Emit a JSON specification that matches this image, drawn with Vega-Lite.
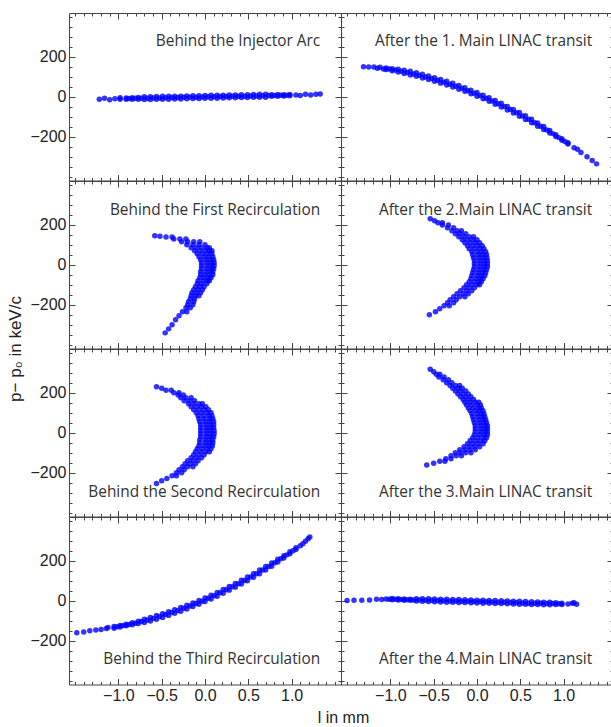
{
"$schema": "https://vega.github.io/schema/vega-lite/v6.json",
"autosize": {"type": "pad"},
"padding": {"left": 6, "top": 8, "right": 0, "bottom": 0},
"datasets": {
"d1": [{"x":-0.91,"y":-12},{"x":-0.91,"y":-6},{"x":-0.84,"y":-12},{"x":-0.84,"y":-5},{"x":-0.77,"y":-12},{"x":-0.77,"y":-4},{"x":-0.7,"y":-14},{"x":-0.7,"y":0},{"x":-0.63,"y":-14},{"x":-0.63,"y":0},{"x":-0.56,"y":-13},{"x":-0.56,"y":1},{"x":-0.49,"y":-12},{"x":-0.49,"y":2},{"x":-0.42,"y":-12},{"x":-0.42,"y":2},{"x":-0.35,"y":-11},{"x":-0.35,"y":3},{"x":-0.28,"y":-11},{"x":-0.28,"y":3},{"x":-0.21,"y":-10},{"x":-0.21,"y":4},{"x":-0.14,"y":-9},{"x":-0.14,"y":5},{"x":-0.07,"y":-9},{"x":-0.07,"y":5},{"x":0,"y":-8},{"x":0,"y":6},{"x":0.07,"y":-7},{"x":0.07,"y":7},{"x":0.14,"y":-7},{"x":0.14,"y":7},{"x":0.21,"y":-6},{"x":0.21,"y":8},{"x":0.28,"y":-5},{"x":0.28,"y":9},{"x":0.35,"y":-5},{"x":0.35,"y":9},{"x":0.42,"y":-4},{"x":0.42,"y":10},{"x":0.49,"y":-4},{"x":0.49,"y":10},{"x":0.56,"y":-3},{"x":0.56,"y":11},{"x":0.63,"y":-2},{"x":0.63,"y":12},{"x":0.7,"y":-2},{"x":0.7,"y":12},{"x":0.77,"y":2},{"x":0.77,"y":10},{"x":0.84,"y":3},{"x":0.84,"y":11},{"x":0.91,"y":4},{"x":0.91,"y":10},{"x":0.98,"y":5},{"x":0.98,"y":11},{"x":-0.875,"y":-9},{"x":-0.805,"y":-8},{"x":-0.735,"y":-8},{"x":-0.665,"y":-7},{"x":-0.595,"y":-6},{"x":-0.525,"y":-6},{"x":-0.455,"y":-5},{"x":-0.385,"y":-4},{"x":-0.315,"y":-4},{"x":-0.245,"y":-3},{"x":-0.175,"y":-3},{"x":-0.105,"y":-2},{"x":-0.035,"y":-1},{"x":0.035,"y":0},{"x":0.105,"y":0},{"x":0.175,"y":1},{"x":0.245,"y":1},{"x":0.315,"y":2},{"x":0.385,"y":2},{"x":0.455,"y":3},{"x":0.525,"y":4},{"x":0.595,"y":4},{"x":0.665,"y":5},{"x":0.735,"y":6},{"x":0.805,"y":6},{"x":0.875,"y":7},{"x":0.945,"y":8},{"x":-1.22,"y":-12},{"x":-1.16,"y":-8},{"x":-1.1,"y":-15},{"x":-1.04,"y":-10},{"x":-0.98,"y":-13},{"x":-0.98,"y":-5},{"x":1.05,"y":9},{"x":1.1,"y":6},{"x":1.16,"y":12},{"x":1.22,"y":9},{"x":1.28,"y":13},{"x":1.33,"y":14}],
"d2": [{"x":-1.31,"y":150},{"x":-1.25,"y":148},{"x":-1.19,"y":149},{"x":-1.15,"y":142},{"x":-1.12,"y":147},{"x":-1.08,"y":139},{"x":-1.05,"y":136},{"x":-1.05,"y":144},{"x":-0.98,"y":130},{"x":-0.98,"y":140},{"x":-0.91,"y":123},{"x":-0.91,"y":137},{"x":-0.84,"y":116},{"x":-0.84,"y":132},{"x":-0.77,"y":109},{"x":-0.77,"y":127},{"x":-0.7,"y":102},{"x":-0.7,"y":120},{"x":-0.63,"y":94},{"x":-0.63,"y":112},{"x":-0.56,"y":86},{"x":-0.56,"y":104},{"x":-0.49,"y":77},{"x":-0.49,"y":95},{"x":-0.42,"y":68},{"x":-0.42,"y":86},{"x":-0.35,"y":59},{"x":-0.35,"y":77},{"x":-0.28,"y":49},{"x":-0.28,"y":67},{"x":-0.21,"y":38},{"x":-0.21,"y":56},{"x":-0.14,"y":27},{"x":-0.14,"y":45},{"x":-0.07,"y":15},{"x":-0.07,"y":33},{"x":0,"y":3},{"x":0,"y":21},{"x":0.07,"y":-10},{"x":0.07,"y":8},{"x":0.14,"y":-23},{"x":0.14,"y":-5},{"x":0.21,"y":-37},{"x":0.21,"y":-19},{"x":0.28,"y":-51},{"x":0.28,"y":-33},{"x":0.35,"y":-66},{"x":0.35,"y":-48},{"x":0.42,"y":-81},{"x":0.42,"y":-63},{"x":0.49,"y":-97},{"x":0.49,"y":-79},{"x":0.56,"y":-113},{"x":0.56,"y":-95},{"x":0.63,"y":-130},{"x":0.63,"y":-112},{"x":0.7,"y":-147},{"x":0.7,"y":-131},{"x":0.77,"y":-163},{"x":0.77,"y":-149},{"x":0.84,"y":-181},{"x":0.84,"y":-169},{"x":0.91,"y":-199},{"x":0.91,"y":-189},{"x":0.98,"y":-217},{"x":0.98,"y":-209},{"x":1.05,"y":-236},{"x":1.05,"y":-230},{"x":-1.015,"y":138},{"x":-0.945,"y":133},{"x":-0.875,"y":127},{"x":-0.805,"y":121},{"x":-0.735,"y":114},{"x":-0.665,"y":107},{"x":-0.595,"y":99},{"x":-0.525,"y":91},{"x":-0.455,"y":82},{"x":-0.385,"y":73},{"x":-0.315,"y":63},{"x":-0.245,"y":52},{"x":-0.175,"y":42},{"x":-0.105,"y":30},{"x":-0.035,"y":18},{"x":0.035,"y":6},{"x":0.105,"y":-7},{"x":0.175,"y":-21},{"x":0.245,"y":-35},{"x":0.315,"y":-49},{"x":0.385,"y":-64},{"x":0.455,"y":-80},{"x":0.525,"y":-96},{"x":0.595,"y":-112},{"x":0.665,"y":-130},{"x":0.735,"y":-147},{"x":0.805,"y":-166},{"x":0.875,"y":-184},{"x":0.945,"y":-204},{"x":1.015,"y":-223},{"x":1.12,"y":-254},{"x":1.16,"y":-262},{"x":1.2,"y":-278},{"x":1.27,"y":-300},{"x":1.33,"y":-318},{"x":1.38,"y":-335}],
"d3": [{"x":-0.58,"y":145},{"x":-0.52,"y":142},{"x":-0.45,"y":138},{"x":-0.38,"y":138},{"x":-0.36,"y":128},{"x":-0.29,"y":128},{"x":-0.22,"y":128},{"x":-0.27,"y":115},{"x":-0.2,"y":115},{"x":-0.13,"y":115},{"x":-0.06,"y":115},{"x":-0.21,"y":100},{"x":-0.14,"y":100},{"x":-0.07,"y":100},{"x":0,"y":100},{"x":-0.16,"y":85},{"x":-0.1,"y":85},{"x":-0.04,"y":85},{"x":0.02,"y":85},{"x":0.05,"y":85},{"x":-0.12,"y":70},{"x":-0.06,"y":70},{"x":0,"y":70},{"x":0.05,"y":70},{"x":0.08,"y":70},{"x":-0.09,"y":55},{"x":-0.03,"y":55},{"x":0.03,"y":55},{"x":0.08,"y":55},{"x":-0.07,"y":40},{"x":-0.01,"y":40},{"x":0.04,"y":40},{"x":0.09,"y":40},{"x":-0.05,"y":25},{"x":0.01,"y":25},{"x":0.06,"y":25},{"x":0.1,"y":25},{"x":-0.04,"y":10},{"x":0.02,"y":10},{"x":0.07,"y":10},{"x":0.105,"y":10},{"x":-0.04,"y":-5},{"x":0.02,"y":-5},{"x":0.07,"y":-5},{"x":0.105,"y":-5},{"x":-0.04,"y":-20},{"x":0.02,"y":-20},{"x":0.07,"y":-20},{"x":0.1,"y":-20},{"x":-0.05,"y":-35},{"x":0.01,"y":-35},{"x":0.06,"y":-35},{"x":0.09,"y":-35},{"x":-0.05,"y":-50},{"x":0,"y":-50},{"x":0.05,"y":-50},{"x":0.09,"y":-50},{"x":-0.06,"y":-65},{"x":-0.01,"y":-65},{"x":0.04,"y":-65},{"x":0.07,"y":-65},{"x":-0.08,"y":-80},{"x":-0.02,"y":-80},{"x":0.03,"y":-80},{"x":0.05,"y":-80},{"x":-0.09,"y":-95},{"x":-0.04,"y":-95},{"x":0.02,"y":-95},{"x":-0.11,"y":-110},{"x":-0.06,"y":-110},{"x":-0.01,"y":-110},{"x":-0.13,"y":-125},{"x":-0.08,"y":-125},{"x":-0.03,"y":-125},{"x":-0.15,"y":-140},{"x":-0.1,"y":-140},{"x":-0.05,"y":-140},{"x":-0.16,"y":-155},{"x":-0.11,"y":-155},{"x":-0.07,"y":-155},{"x":-0.17,"y":-170},{"x":-0.12,"y":-170},{"x":-0.19,"y":-185},{"x":-0.13,"y":-185},{"x":-0.2,"y":-200},{"x":-0.14,"y":-200},{"x":-0.22,"y":-215},{"x":-0.17,"y":-215},{"x":-0.26,"y":-235},{"x":-0.21,"y":-235},{"x":-0.3,"y":-255},{"x":-0.34,"y":-275},{"x":-0.38,"y":-300},{"x":-0.42,"y":-320},{"x":-0.46,"y":-340}],
"d4": [{"x":-0.54,"y":230},{"x":-0.49,"y":220},{"x":-0.45,"y":210},{"x":-0.4,"y":210},{"x":-0.4,"y":198},{"x":-0.33,"y":198},{"x":-0.34,"y":185},{"x":-0.27,"y":185},{"x":-0.29,"y":170},{"x":-0.23,"y":170},{"x":-0.18,"y":170},{"x":-0.25,"y":155},{"x":-0.19,"y":155},{"x":-0.13,"y":155},{"x":-0.21,"y":140},{"x":-0.15,"y":140},{"x":-0.09,"y":140},{"x":-0.04,"y":140},{"x":-0.17,"y":125},{"x":-0.11,"y":125},{"x":-0.05,"y":125},{"x":0,"y":125},{"x":-0.14,"y":110},{"x":-0.08,"y":110},{"x":-0.02,"y":110},{"x":0.03,"y":110},{"x":-0.11,"y":95},{"x":-0.05,"y":95},{"x":0.01,"y":95},{"x":0.06,"y":95},{"x":-0.09,"y":80},{"x":-0.03,"y":80},{"x":0.03,"y":80},{"x":0.08,"y":80},{"x":-0.06,"y":65},{"x":0,"y":65},{"x":0.05,"y":65},{"x":0.1,"y":65},{"x":-0.05,"y":50},{"x":0.01,"y":50},{"x":0.06,"y":50},{"x":0.11,"y":50},{"x":-0.04,"y":35},{"x":0.02,"y":35},{"x":0.07,"y":35},{"x":0.115,"y":35},{"x":-0.03,"y":20},{"x":0.03,"y":20},{"x":0.08,"y":20},{"x":0.12,"y":20},{"x":-0.03,"y":5},{"x":0.03,"y":5},{"x":0.08,"y":5},{"x":0.12,"y":5},{"x":-0.03,"y":-10},{"x":0.03,"y":-10},{"x":0.08,"y":-10},{"x":0.12,"y":-10},{"x":-0.04,"y":-25},{"x":0.02,"y":-25},{"x":0.07,"y":-25},{"x":0.11,"y":-25},{"x":-0.05,"y":-40},{"x":0.01,"y":-40},{"x":0.06,"y":-40},{"x":0.1,"y":-40},{"x":-0.06,"y":-55},{"x":0,"y":-55},{"x":0.05,"y":-55},{"x":0.09,"y":-55},{"x":-0.07,"y":-70},{"x":-0.01,"y":-70},{"x":0.04,"y":-70},{"x":0.07,"y":-70},{"x":-0.09,"y":-85},{"x":-0.03,"y":-85},{"x":0.02,"y":-85},{"x":0.05,"y":-85},{"x":-0.12,"y":-100},{"x":-0.06,"y":-100},{"x":0,"y":-100},{"x":0.03,"y":-100},{"x":-0.15,"y":-115},{"x":-0.09,"y":-115},{"x":-0.03,"y":-115},{"x":-0.19,"y":-130},{"x":-0.12,"y":-130},{"x":-0.06,"y":-130},{"x":-0.23,"y":-145},{"x":-0.16,"y":-145},{"x":-0.1,"y":-145},{"x":-0.27,"y":-160},{"x":-0.2,"y":-160},{"x":-0.14,"y":-160},{"x":-0.31,"y":-175},{"x":-0.24,"y":-175},{"x":-0.34,"y":-190},{"x":-0.27,"y":-190},{"x":-0.38,"y":-205},{"x":-0.32,"y":-205},{"x":-0.43,"y":-220},{"x":-0.48,"y":-235},{"x":-0.55,"y":-250}],
"d5": [{"x":-0.56,"y":230},{"x":-0.5,"y":222},{"x":-0.45,"y":212},{"x":-0.39,"y":212},{"x":-0.36,"y":200},{"x":-0.3,"y":200},{"x":-0.31,"y":188},{"x":-0.25,"y":188},{"x":-0.28,"y":175},{"x":-0.22,"y":175},{"x":-0.16,"y":175},{"x":-0.24,"y":160},{"x":-0.18,"y":160},{"x":-0.12,"y":160},{"x":-0.19,"y":145},{"x":-0.13,"y":145},{"x":-0.07,"y":145},{"x":-0.03,"y":145},{"x":-0.16,"y":130},{"x":-0.1,"y":130},{"x":-0.04,"y":130},{"x":0.01,"y":130},{"x":-0.13,"y":115},{"x":-0.07,"y":115},{"x":-0.01,"y":115},{"x":0.04,"y":115},{"x":-0.1,"y":100},{"x":-0.04,"y":100},{"x":0.02,"y":100},{"x":0.07,"y":100},{"x":-0.08,"y":85},{"x":-0.02,"y":85},{"x":0.04,"y":85},{"x":0.08,"y":85},{"x":-0.07,"y":70},{"x":-0.01,"y":70},{"x":0.05,"y":70},{"x":0.09,"y":70},{"x":-0.06,"y":55},{"x":0,"y":55},{"x":0.05,"y":55},{"x":0.1,"y":55},{"x":-0.05,"y":40},{"x":0.01,"y":40},{"x":0.06,"y":40},{"x":0.1,"y":40},{"x":-0.05,"y":25},{"x":0.01,"y":25},{"x":0.06,"y":25},{"x":0.1,"y":25},{"x":-0.05,"y":10},{"x":0.01,"y":10},{"x":0.06,"y":10},{"x":0.105,"y":10},{"x":-0.05,"y":-5},{"x":0.01,"y":-5},{"x":0.06,"y":-5},{"x":0.105,"y":-5},{"x":-0.05,"y":-20},{"x":0.01,"y":-20},{"x":0.06,"y":-20},{"x":0.1,"y":-20},{"x":-0.06,"y":-35},{"x":0,"y":-35},{"x":0.05,"y":-35},{"x":0.09,"y":-35},{"x":-0.06,"y":-50},{"x":0,"y":-50},{"x":0.05,"y":-50},{"x":0.09,"y":-50},{"x":-0.07,"y":-65},{"x":-0.01,"y":-65},{"x":0.04,"y":-65},{"x":0.085,"y":-65},{"x":-0.09,"y":-80},{"x":-0.03,"y":-80},{"x":0.03,"y":-80},{"x":0.07,"y":-80},{"x":-0.11,"y":-95},{"x":-0.05,"y":-95},{"x":0.01,"y":-95},{"x":0.05,"y":-95},{"x":-0.13,"y":-110},{"x":-0.07,"y":-110},{"x":-0.01,"y":-110},{"x":-0.16,"y":-125},{"x":-0.1,"y":-125},{"x":-0.04,"y":-125},{"x":-0.2,"y":-140},{"x":-0.14,"y":-140},{"x":-0.08,"y":-140},{"x":-0.23,"y":-155},{"x":-0.17,"y":-155},{"x":-0.11,"y":-155},{"x":-0.26,"y":-170},{"x":-0.2,"y":-170},{"x":-0.14,"y":-170},{"x":-0.3,"y":-185},{"x":-0.24,"y":-185},{"x":-0.33,"y":-200},{"x":-0.27,"y":-200},{"x":-0.38,"y":-215},{"x":-0.33,"y":-215},{"x":-0.44,"y":-228},{"x":-0.5,"y":-240},{"x":-0.56,"y":-253}],
"d6": [{"x":-0.54,"y":317},{"x":-0.5,"y":305},{"x":-0.47,"y":292},{"x":-0.43,"y":292},{"x":-0.44,"y":278},{"x":-0.38,"y":278},{"x":-0.39,"y":264},{"x":-0.33,"y":264},{"x":-0.35,"y":250},{"x":-0.29,"y":250},{"x":-0.31,"y":236},{"x":-0.25,"y":236},{"x":-0.2,"y":236},{"x":-0.28,"y":222},{"x":-0.22,"y":222},{"x":-0.17,"y":222},{"x":-0.25,"y":208},{"x":-0.19,"y":208},{"x":-0.13,"y":208},{"x":-0.22,"y":194},{"x":-0.16,"y":194},{"x":-0.1,"y":194},{"x":-0.19,"y":180},{"x":-0.13,"y":180},{"x":-0.07,"y":180},{"x":-0.16,"y":166},{"x":-0.1,"y":166},{"x":-0.04,"y":166},{"x":-0.14,"y":152},{"x":-0.08,"y":152},{"x":-0.02,"y":152},{"x":0.02,"y":152},{"x":-0.12,"y":138},{"x":-0.06,"y":138},{"x":0,"y":138},{"x":0.04,"y":138},{"x":-0.1,"y":124},{"x":-0.04,"y":124},{"x":0.02,"y":124},{"x":0.05,"y":124},{"x":-0.08,"y":110},{"x":-0.02,"y":110},{"x":0.03,"y":110},{"x":0.07,"y":110},{"x":-0.06,"y":95},{"x":0,"y":95},{"x":0.05,"y":95},{"x":0.08,"y":95},{"x":-0.05,"y":80},{"x":0.01,"y":80},{"x":0.06,"y":80},{"x":0.09,"y":80},{"x":-0.04,"y":65},{"x":0.02,"y":65},{"x":0.07,"y":65},{"x":0.1,"y":65},{"x":-0.03,"y":50},{"x":0.03,"y":50},{"x":0.08,"y":50},{"x":0.11,"y":50},{"x":-0.02,"y":35},{"x":0.04,"y":35},{"x":0.09,"y":35},{"x":0.12,"y":35},{"x":-0.02,"y":20},{"x":0.04,"y":20},{"x":0.09,"y":20},{"x":0.12,"y":20},{"x":-0.02,"y":5},{"x":0.04,"y":5},{"x":0.09,"y":5},{"x":0.12,"y":5},{"x":-0.03,"y":-10},{"x":0.03,"y":-10},{"x":0.08,"y":-10},{"x":0.12,"y":-10},{"x":-0.05,"y":-25},{"x":0.01,"y":-25},{"x":0.07,"y":-25},{"x":0.11,"y":-25},{"x":-0.08,"y":-40},{"x":-0.02,"y":-40},{"x":0.04,"y":-40},{"x":0.09,"y":-40},{"x":-0.11,"y":-55},{"x":-0.05,"y":-55},{"x":0.01,"y":-55},{"x":0.07,"y":-55},{"x":-0.15,"y":-70},{"x":-0.09,"y":-70},{"x":-0.03,"y":-70},{"x":0.03,"y":-70},{"x":-0.2,"y":-85},{"x":-0.14,"y":-85},{"x":-0.08,"y":-85},{"x":-0.02,"y":-85},{"x":-0.25,"y":-100},{"x":-0.19,"y":-100},{"x":-0.13,"y":-100},{"x":-0.07,"y":-100},{"x":-0.3,"y":-115},{"x":-0.24,"y":-115},{"x":-0.18,"y":-115},{"x":-0.36,"y":-130},{"x":-0.3,"y":-130},{"x":-0.43,"y":-142},{"x":-0.37,"y":-142},{"x":-0.5,"y":-152},{"x":-0.58,"y":-161}],
"d7": [{"x":-1.48,"y":-160},{"x":-1.4,"y":-156},{"x":-1.33,"y":-150},{"x":-1.26,"y":-146},{"x":-1.2,"y":-143},{"x":-1.14,"y":-139},{"x":-1.12,"y":-134},{"x":-1.05,"y":-137},{"x":-1.05,"y":-129},{"x":-0.98,"y":-131},{"x":-0.98,"y":-123},{"x":-0.91,"y":-125},{"x":-0.91,"y":-117},{"x":-0.84,"y":-120},{"x":-0.84,"y":-110},{"x":-0.77,"y":-114},{"x":-0.77,"y":-102},{"x":-0.7,"y":-108},{"x":-0.7,"y":-92},{"x":-0.63,"y":-101},{"x":-0.63,"y":-83},{"x":-0.56,"y":-92},{"x":-0.56,"y":-74},{"x":-0.49,"y":-83},{"x":-0.49,"y":-65},{"x":-0.42,"y":-73},{"x":-0.42,"y":-55},{"x":-0.35,"y":-63},{"x":-0.35,"y":-45},{"x":-0.28,"y":-52},{"x":-0.28,"y":-34},{"x":-0.21,"y":-41},{"x":-0.21,"y":-23},{"x":-0.14,"y":-29},{"x":-0.14,"y":-11},{"x":-0.07,"y":-17},{"x":-0.07,"y":1},{"x":0,"y":-4},{"x":0,"y":14},{"x":0.07,"y":9},{"x":0.07,"y":27},{"x":0.14,"y":23},{"x":0.14,"y":41},{"x":0.21,"y":38},{"x":0.21,"y":56},{"x":0.28,"y":53},{"x":0.28,"y":71},{"x":0.35,"y":68},{"x":0.35,"y":86},{"x":0.42,"y":84},{"x":0.42,"y":102},{"x":0.49,"y":100},{"x":0.49,"y":118},{"x":0.56,"y":117},{"x":0.56,"y":135},{"x":0.63,"y":135},{"x":0.63,"y":153},{"x":0.7,"y":153},{"x":0.7,"y":171},{"x":0.77,"y":172},{"x":0.77,"y":188},{"x":0.84,"y":193},{"x":0.84,"y":207},{"x":0.91,"y":213},{"x":0.91,"y":225},{"x":0.98,"y":234},{"x":0.98,"y":244},{"x":1.05,"y":256},{"x":1.05,"y":264},{"x":-1.015,"y":-130},{"x":-0.945,"y":-124},{"x":-0.875,"y":-118},{"x":-0.805,"y":-112},{"x":-0.735,"y":-104},{"x":-0.665,"y":-96},{"x":-0.595,"y":-88},{"x":-0.525,"y":-79},{"x":-0.455,"y":-69},{"x":-0.385,"y":-59},{"x":-0.315,"y":-49},{"x":-0.245,"y":-38},{"x":-0.175,"y":-26},{"x":-0.105,"y":-14},{"x":-0.035,"y":-2},{"x":0.035,"y":12},{"x":0.105,"y":25},{"x":0.175,"y":40},{"x":0.245,"y":55},{"x":0.315,"y":70},{"x":0.385,"y":85},{"x":0.455,"y":101},{"x":0.525,"y":118},{"x":0.595,"y":135},{"x":0.665,"y":153},{"x":0.735,"y":171},{"x":0.805,"y":190},{"x":0.875,"y":210},{"x":0.945,"y":229},{"x":1.015,"y":250},{"x":1.1,"y":275},{"x":1.13,"y":285},{"x":1.16,"y":297},{"x":1.19,"y":310},{"x":1.21,"y":318}],
"d8": [{"x":-1.5,"y":1},{"x":-1.42,"y":2},{"x":-1.33,"y":3},{"x":-1.24,"y":4},{"x":-1.16,"y":7},{"x":-1.1,"y":6},{"x":-1.05,"y":9},{"x":-0.98,"y":5},{"x":-0.98,"y":11},{"x":-0.91,"y":4},{"x":-0.91,"y":10},{"x":-0.84,"y":3},{"x":-0.84,"y":9},{"x":-0.77,"y":2},{"x":-0.77,"y":8},{"x":-0.7,"y":-1},{"x":-0.7,"y":10},{"x":-0.63,"y":-3},{"x":-0.63,"y":10},{"x":-0.56,"y":-4},{"x":-0.56,"y":10},{"x":-0.49,"y":-5},{"x":-0.49,"y":9},{"x":-0.42,"y":-6},{"x":-0.42,"y":8},{"x":-0.35,"y":-7},{"x":-0.35,"y":7},{"x":-0.28,"y":-8},{"x":-0.28,"y":6},{"x":-0.21,"y":-9},{"x":-0.21,"y":6},{"x":-0.14,"y":-9},{"x":-0.14,"y":5},{"x":-0.07,"y":-10},{"x":-0.07,"y":4},{"x":0,"y":-11},{"x":0,"y":3},{"x":0.07,"y":-12},{"x":0.07,"y":2},{"x":0.14,"y":-13},{"x":0.14,"y":1},{"x":0.21,"y":-14},{"x":0.21,"y":1},{"x":0.28,"y":-14},{"x":0.28,"y":0},{"x":0.35,"y":-15},{"x":0.35,"y":-1},{"x":0.42,"y":-16},{"x":0.42,"y":-2},{"x":0.49,"y":-17},{"x":0.49,"y":-3},{"x":0.56,"y":-18},{"x":0.56,"y":-4},{"x":0.63,"y":-19},{"x":0.63,"y":-5},{"x":0.7,"y":-19},{"x":0.7,"y":-6},{"x":0.77,"y":-20},{"x":0.77,"y":-7},{"x":0.84,"y":-20},{"x":0.84,"y":-8},{"x":0.91,"y":-19},{"x":0.91,"y":-10},{"x":0.98,"y":-19},{"x":0.98,"y":-12},{"x":-1.015,"y":8},{"x":-0.945,"y":7},{"x":-0.875,"y":6},{"x":-0.805,"y":5},{"x":-0.735,"y":4},{"x":-0.665,"y":4},{"x":-0.595,"y":3},{"x":-0.525,"y":2},{"x":-0.455,"y":1},{"x":-0.385,"y":0},{"x":-0.315,"y":-1},{"x":-0.245,"y":-1},{"x":-0.175,"y":-2},{"x":-0.105,"y":-3},{"x":-0.035,"y":-4},{"x":0.035,"y":-4},{"x":0.105,"y":-5},{"x":0.175,"y":-6},{"x":0.245,"y":-7},{"x":0.315,"y":-8},{"x":0.385,"y":-9},{"x":0.455,"y":-10},{"x":0.525,"y":-11},{"x":0.595,"y":-12},{"x":0.665,"y":-12},{"x":0.735,"y":-13},{"x":0.805,"y":-14},{"x":0.875,"y":-14},{"x":0.945,"y":-15},{"x":1.05,"y":-16},{"x":1.1,"y":-13},{"x":1.15,"y":-17},{"x":1.12,"y":-10}]
},
"columns": 2,
"spacing": 0,
"bounds": "flush",
"concat": [
{"width": 272, "height": 167.5, "resolve": {"axis": {"x": "independent", "y": "independent"}}, "layer": [
 {"data": {"name": "d1"}, "mark": {"type": "circle", "size": 30, "color": "#0000ff", "opacity": 0.8},
  "encoding": {"x": {"field": "x", "type": "quantitative", "scale": {"domain": [-1.57, 1.57], "nice": false}, "axis": {"orient": "bottom", "title": null, "labels": false, "values": [-1.5,-1.4,-1.3,-1.2,-1.1,-1,-0.9,-0.8,-0.7,-0.6,-0.5,-0.4,-0.3,-0.2,-0.1,0,0.1,0.2,0.3,0.4,0.5,0.6,0.7,0.8,0.9,1,1.1,1.2,1.3,1.4,1.5]}},
   "y": {"field": "y", "type": "quantitative", "scale": {"domain": [-418, 418], "nice": false}, "axis": {"orient": "left", "title": null, "format": "d", "labelExpr": "abs(datum.value) < 300 && datum.value % 200 == 0 ? datum.label : ''", "values": [-400,-350,-300,-250,-200,-150,-100,-50,0,50,100,150,200,250,300,350,400]}}}},
 {"data": {"values": [{"t": "Behind the Injector Arc"}]}, "mark": {"type": "text", "align": "right", "baseline": "alphabetic", "font": "Open Sans", "fontSize": 15.4, "color": "#333333"},
  "encoding": {"x": {"datum": 1.33, "type": "quantitative", "scale": {"domain": [-1.57, 1.57], "nice": false}, "axis": {"orient": "top", "title": null, "labels": false, "values": [-1.5,-1.4,-1.3,-1.2,-1.1,-1,-0.9,-0.8,-0.7,-0.6,-0.5,-0.4,-0.3,-0.2,-0.1,0,0.1,0.2,0.3,0.4,0.5,0.6,0.7,0.8,0.9,1,1.1,1.2,1.3,1.4,1.5]}},
   "y": {"datum": 253, "type": "quantitative", "scale": {"domain": [-418, 418], "nice": false}, "axis": {"orient": "right", "title": null, "labels": false, "values": [-400,-350,-300,-250,-200,-150,-100,-50,0,50,100,150,200,250,300,350,400]}},
   "text": {"field": "t"}}}
]},
{"width": 272, "height": 167.5, "resolve": {"axis": {"x": "independent", "y": "independent"}}, "layer": [
 {"data": {"name": "d2"}, "mark": {"type": "circle", "size": 30, "color": "#0000ff", "opacity": 0.8},
  "encoding": {"x": {"field": "x", "type": "quantitative", "scale": {"domain": [-1.57, 1.57], "nice": false}, "axis": {"orient": "bottom", "title": null, "labels": false, "values": [-1.5,-1.4,-1.3,-1.2,-1.1,-1,-0.9,-0.8,-0.7,-0.6,-0.5,-0.4,-0.3,-0.2,-0.1,0,0.1,0.2,0.3,0.4,0.5,0.6,0.7,0.8,0.9,1,1.1,1.2,1.3,1.4,1.5]}},
   "y": {"field": "y", "type": "quantitative", "scale": {"domain": [-418, 418], "nice": false}, "axis": {"orient": "left", "title": null, "labels": false, "values": [-400,-350,-300,-250,-200,-150,-100,-50,0,50,100,150,200,250,300,350,400]}}}},
 {"data": {"values": [{"t": "After the 1. Main LINAC transit"}]}, "mark": {"type": "text", "align": "right", "baseline": "alphabetic", "font": "Open Sans", "fontSize": 15.4, "color": "#333333"},
  "encoding": {"x": {"datum": 1.33, "type": "quantitative", "scale": {"domain": [-1.57, 1.57], "nice": false}, "axis": {"orient": "top", "title": null, "labels": false, "values": [-1.5,-1.4,-1.3,-1.2,-1.1,-1,-0.9,-0.8,-0.7,-0.6,-0.5,-0.4,-0.3,-0.2,-0.1,0,0.1,0.2,0.3,0.4,0.5,0.6,0.7,0.8,0.9,1,1.1,1.2,1.3,1.4,1.5]}},
   "y": {"datum": 253, "type": "quantitative", "scale": {"domain": [-418, 418], "nice": false}, "axis": {"orient": "right", "title": null, "labels": false, "values": [-400,-350,-300,-250,-200,-150,-100,-50,0,50,100,150,200,250,300,350,400]}},
   "text": {"field": "t"}}}
]},
{"width": 272, "height": 167.5, "resolve": {"axis": {"x": "independent", "y": "independent"}}, "layer": [
 {"data": {"name": "d3"}, "mark": {"type": "circle", "size": 30, "color": "#0000ff", "opacity": 0.8},
  "encoding": {"x": {"field": "x", "type": "quantitative", "scale": {"domain": [-1.57, 1.57], "nice": false}, "axis": {"orient": "bottom", "title": null, "labels": false, "values": [-1.5,-1.4,-1.3,-1.2,-1.1,-1,-0.9,-0.8,-0.7,-0.6,-0.5,-0.4,-0.3,-0.2,-0.1,0,0.1,0.2,0.3,0.4,0.5,0.6,0.7,0.8,0.9,1,1.1,1.2,1.3,1.4,1.5]}},
   "y": {"field": "y", "type": "quantitative", "scale": {"domain": [-418, 418], "nice": false}, "axis": {"orient": "left", "title": "p− p₀ in keV/c", "titleFontSize": 17, "titleY": 167.5, "titleAlign": "center", "titlePadding": 5, "format": "d", "labelExpr": "abs(datum.value) < 300 && datum.value % 200 == 0 ? datum.label : ''", "values": [-400,-350,-300,-250,-200,-150,-100,-50,0,50,100,150,200,250,300,350,400]}}}},
 {"data": {"values": [{"t": "Behind the First Recirculation"}]}, "mark": {"type": "text", "align": "right", "baseline": "alphabetic", "font": "Open Sans", "fontSize": 15.4, "color": "#333333"},
  "encoding": {"x": {"datum": 1.33, "type": "quantitative", "scale": {"domain": [-1.57, 1.57], "nice": false}, "axis": {"orient": "top", "title": null, "labels": false, "values": [-1.5,-1.4,-1.3,-1.2,-1.1,-1,-0.9,-0.8,-0.7,-0.6,-0.5,-0.4,-0.3,-0.2,-0.1,0,0.1,0.2,0.3,0.4,0.5,0.6,0.7,0.8,0.9,1,1.1,1.2,1.3,1.4,1.5]}},
   "y": {"datum": 248, "type": "quantitative", "scale": {"domain": [-418, 418], "nice": false}, "axis": {"orient": "right", "title": null, "labels": false, "values": [-400,-350,-300,-250,-200,-150,-100,-50,0,50,100,150,200,250,300,350,400]}},
   "text": {"field": "t"}}}
]},
{"width": 272, "height": 167.5, "resolve": {"axis": {"x": "independent", "y": "independent"}}, "layer": [
 {"data": {"name": "d4"}, "mark": {"type": "circle", "size": 30, "color": "#0000ff", "opacity": 0.8},
  "encoding": {"x": {"field": "x", "type": "quantitative", "scale": {"domain": [-1.57, 1.57], "nice": false}, "axis": {"orient": "bottom", "title": null, "labels": false, "values": [-1.5,-1.4,-1.3,-1.2,-1.1,-1,-0.9,-0.8,-0.7,-0.6,-0.5,-0.4,-0.3,-0.2,-0.1,0,0.1,0.2,0.3,0.4,0.5,0.6,0.7,0.8,0.9,1,1.1,1.2,1.3,1.4,1.5]}},
   "y": {"field": "y", "type": "quantitative", "scale": {"domain": [-418, 418], "nice": false}, "axis": {"orient": "left", "title": null, "labels": false, "values": [-400,-350,-300,-250,-200,-150,-100,-50,0,50,100,150,200,250,300,350,400]}}}},
 {"data": {"values": [{"t": "After the 2.Main LINAC transit"}]}, "mark": {"type": "text", "align": "right", "baseline": "alphabetic", "font": "Open Sans", "fontSize": 15.4, "color": "#333333"},
  "encoding": {"x": {"datum": 1.33, "type": "quantitative", "scale": {"domain": [-1.57, 1.57], "nice": false}, "axis": {"orient": "top", "title": null, "labels": false, "values": [-1.5,-1.4,-1.3,-1.2,-1.1,-1,-0.9,-0.8,-0.7,-0.6,-0.5,-0.4,-0.3,-0.2,-0.1,0,0.1,0.2,0.3,0.4,0.5,0.6,0.7,0.8,0.9,1,1.1,1.2,1.3,1.4,1.5]}},
   "y": {"datum": 248, "type": "quantitative", "scale": {"domain": [-418, 418], "nice": false}, "axis": {"orient": "right", "title": null, "labels": false, "values": [-400,-350,-300,-250,-200,-150,-100,-50,0,50,100,150,200,250,300,350,400]}},
   "text": {"field": "t"}}}
]},
{"width": 272, "height": 167.5, "resolve": {"axis": {"x": "independent", "y": "independent"}}, "layer": [
 {"data": {"name": "d5"}, "mark": {"type": "circle", "size": 30, "color": "#0000ff", "opacity": 0.8},
  "encoding": {"x": {"field": "x", "type": "quantitative", "scale": {"domain": [-1.57, 1.57], "nice": false}, "axis": {"orient": "bottom", "title": null, "labels": false, "values": [-1.5,-1.4,-1.3,-1.2,-1.1,-1,-0.9,-0.8,-0.7,-0.6,-0.5,-0.4,-0.3,-0.2,-0.1,0,0.1,0.2,0.3,0.4,0.5,0.6,0.7,0.8,0.9,1,1.1,1.2,1.3,1.4,1.5]}},
   "y": {"field": "y", "type": "quantitative", "scale": {"domain": [-418, 418], "nice": false}, "axis": {"orient": "left", "title": null, "format": "d", "labelExpr": "abs(datum.value) < 300 && datum.value % 200 == 0 ? datum.label : ''", "values": [-400,-350,-300,-250,-200,-150,-100,-50,0,50,100,150,200,250,300,350,400]}}}},
 {"data": {"values": [{"t": "Behind the Second Recirculation"}]}, "mark": {"type": "text", "align": "right", "baseline": "alphabetic", "font": "Open Sans", "fontSize": 15.4, "color": "#333333"},
  "encoding": {"x": {"datum": 1.33, "type": "quantitative", "scale": {"domain": [-1.57, 1.57], "nice": false}, "axis": {"orient": "top", "title": null, "labels": false, "values": [-1.5,-1.4,-1.3,-1.2,-1.1,-1,-0.9,-0.8,-0.7,-0.6,-0.5,-0.4,-0.3,-0.2,-0.1,0,0.1,0.2,0.3,0.4,0.5,0.6,0.7,0.8,0.9,1,1.1,1.2,1.3,1.4,1.5]}},
   "y": {"datum": -322, "type": "quantitative", "scale": {"domain": [-418, 418], "nice": false}, "axis": {"orient": "right", "title": null, "labels": false, "values": [-400,-350,-300,-250,-200,-150,-100,-50,0,50,100,150,200,250,300,350,400]}},
   "text": {"field": "t"}}}
]},
{"width": 272, "height": 167.5, "resolve": {"axis": {"x": "independent", "y": "independent"}}, "layer": [
 {"data": {"name": "d6"}, "mark": {"type": "circle", "size": 30, "color": "#0000ff", "opacity": 0.8},
  "encoding": {"x": {"field": "x", "type": "quantitative", "scale": {"domain": [-1.57, 1.57], "nice": false}, "axis": {"orient": "bottom", "title": null, "labels": false, "values": [-1.5,-1.4,-1.3,-1.2,-1.1,-1,-0.9,-0.8,-0.7,-0.6,-0.5,-0.4,-0.3,-0.2,-0.1,0,0.1,0.2,0.3,0.4,0.5,0.6,0.7,0.8,0.9,1,1.1,1.2,1.3,1.4,1.5]}},
   "y": {"field": "y", "type": "quantitative", "scale": {"domain": [-418, 418], "nice": false}, "axis": {"orient": "left", "title": null, "labels": false, "values": [-400,-350,-300,-250,-200,-150,-100,-50,0,50,100,150,200,250,300,350,400]}}}},
 {"data": {"values": [{"t": "After the 3.Main LINAC transit"}]}, "mark": {"type": "text", "align": "right", "baseline": "alphabetic", "font": "Open Sans", "fontSize": 15.4, "color": "#333333"},
  "encoding": {"x": {"datum": 1.33, "type": "quantitative", "scale": {"domain": [-1.57, 1.57], "nice": false}, "axis": {"orient": "top", "title": null, "labels": false, "values": [-1.5,-1.4,-1.3,-1.2,-1.1,-1,-0.9,-0.8,-0.7,-0.6,-0.5,-0.4,-0.3,-0.2,-0.1,0,0.1,0.2,0.3,0.4,0.5,0.6,0.7,0.8,0.9,1,1.1,1.2,1.3,1.4,1.5]}},
   "y": {"datum": -322, "type": "quantitative", "scale": {"domain": [-418, 418], "nice": false}, "axis": {"orient": "right", "title": null, "labels": false, "values": [-400,-350,-300,-250,-200,-150,-100,-50,0,50,100,150,200,250,300,350,400]}},
   "text": {"field": "t"}}}
]},
{"width": 272, "height": 167.5, "resolve": {"axis": {"x": "independent", "y": "independent"}}, "layer": [
 {"data": {"name": "d7"}, "mark": {"type": "circle", "size": 30, "color": "#0000ff", "opacity": 0.8},
  "encoding": {"x": {"field": "x", "type": "quantitative", "scale": {"domain": [-1.57, 1.57], "nice": false}, "axis": {"orient": "bottom", "title": "l in mm", "titleX": 274, "titleAlign": "center", "titlePadding": 3, "format": ".1f", "labelExpr": "abs(datum.value) < 1.2 && abs(datum.value * 2 - round(datum.value * 2)) < 0.01 ? datum.label : ''", "values": [-1.5,-1.4,-1.3,-1.2,-1.1,-1,-0.9,-0.8,-0.7,-0.6,-0.5,-0.4,-0.3,-0.2,-0.1,0,0.1,0.2,0.3,0.4,0.5,0.6,0.7,0.8,0.9,1,1.1,1.2,1.3,1.4,1.5]}},
   "y": {"field": "y", "type": "quantitative", "scale": {"domain": [-418, 418], "nice": false}, "axis": {"orient": "left", "title": null, "format": "d", "labelExpr": "abs(datum.value) < 300 && datum.value % 200 == 0 ? datum.label : ''", "values": [-400,-350,-300,-250,-200,-150,-100,-50,0,50,100,150,200,250,300,350,400]}}}},
 {"data": {"values": [{"t": "Behind the Third Recirculation"}]}, "mark": {"type": "text", "align": "right", "baseline": "alphabetic", "font": "Open Sans", "fontSize": 15.4, "color": "#333333"},
  "encoding": {"x": {"datum": 1.33, "type": "quantitative", "scale": {"domain": [-1.57, 1.57], "nice": false}, "axis": {"orient": "top", "title": null, "labels": false, "values": [-1.5,-1.4,-1.3,-1.2,-1.1,-1,-0.9,-0.8,-0.7,-0.6,-0.5,-0.4,-0.3,-0.2,-0.1,0,0.1,0.2,0.3,0.4,0.5,0.6,0.7,0.8,0.9,1,1.1,1.2,1.3,1.4,1.5]}},
   "y": {"datum": -318, "type": "quantitative", "scale": {"domain": [-418, 418], "nice": false}, "axis": {"orient": "right", "title": null, "labels": false, "values": [-400,-350,-300,-250,-200,-150,-100,-50,0,50,100,150,200,250,300,350,400]}},
   "text": {"field": "t"}}}
]},
{"width": 272, "height": 167.5, "resolve": {"axis": {"x": "independent", "y": "independent"}}, "layer": [
 {"data": {"name": "d8"}, "mark": {"type": "circle", "size": 30, "color": "#0000ff", "opacity": 0.8},
  "encoding": {"x": {"field": "x", "type": "quantitative", "scale": {"domain": [-1.57, 1.57], "nice": false}, "axis": {"orient": "bottom", "title": null, "format": ".1f", "labelExpr": "abs(datum.value) < 1.2 && abs(datum.value * 2 - round(datum.value * 2)) < 0.01 ? datum.label : ''", "values": [-1.5,-1.4,-1.3,-1.2,-1.1,-1,-0.9,-0.8,-0.7,-0.6,-0.5,-0.4,-0.3,-0.2,-0.1,0,0.1,0.2,0.3,0.4,0.5,0.6,0.7,0.8,0.9,1,1.1,1.2,1.3,1.4,1.5]}},
   "y": {"field": "y", "type": "quantitative", "scale": {"domain": [-418, 418], "nice": false}, "axis": {"orient": "left", "title": null, "labels": false, "values": [-400,-350,-300,-250,-200,-150,-100,-50,0,50,100,150,200,250,300,350,400]}}}},
 {"data": {"values": [{"t": "After the 4.Main LINAC transit"}]}, "mark": {"type": "text", "align": "right", "baseline": "alphabetic", "font": "Open Sans", "fontSize": 15.4, "color": "#333333"},
  "encoding": {"x": {"datum": 1.33, "type": "quantitative", "scale": {"domain": [-1.57, 1.57], "nice": false}, "axis": {"orient": "top", "title": null, "labels": false, "values": [-1.5,-1.4,-1.3,-1.2,-1.1,-1,-0.9,-0.8,-0.7,-0.6,-0.5,-0.4,-0.3,-0.2,-0.1,0,0.1,0.2,0.3,0.4,0.5,0.6,0.7,0.8,0.9,1,1.1,1.2,1.3,1.4,1.5]}},
   "y": {"datum": -318, "type": "quantitative", "scale": {"domain": [-418, 418], "nice": false}, "axis": {"orient": "right", "title": null, "labels": false, "values": [-400,-350,-300,-250,-200,-150,-100,-50,0,50,100,150,200,250,300,350,400]}},
   "text": {"field": "t"}}}
]}
],
"config": {
 "view": {"stroke": null},
 "axis": {"grid": false, "domainColor": "#444444", "tickColor": "#444444", "domainWidth": 1, "tickWidth": 1, "labelFont": "Liberation Sans", "labelFontSize": 16, "labelColor": "#222222", "titleFont": "Liberation Sans", "titleFontSize": 16, "titleFontWeight": "normal", "titleColor": "#222222", "labelOverlap": false, "labelPadding": 9, "labelFlush": false, "labelBound": false},
 "axisX": {"tickSize": {"condition": {"test": "abs(datum.value) < 1.2 && abs(datum.value * 2 - round(datum.value * 2)) < 0.01", "value": -6}, "value": -3}},
 "axisY": {"tickSize": {"condition": {"test": "abs(datum.value) < 300 && datum.value % 200 == 0", "value": -6}, "value": -3}}
}
}
